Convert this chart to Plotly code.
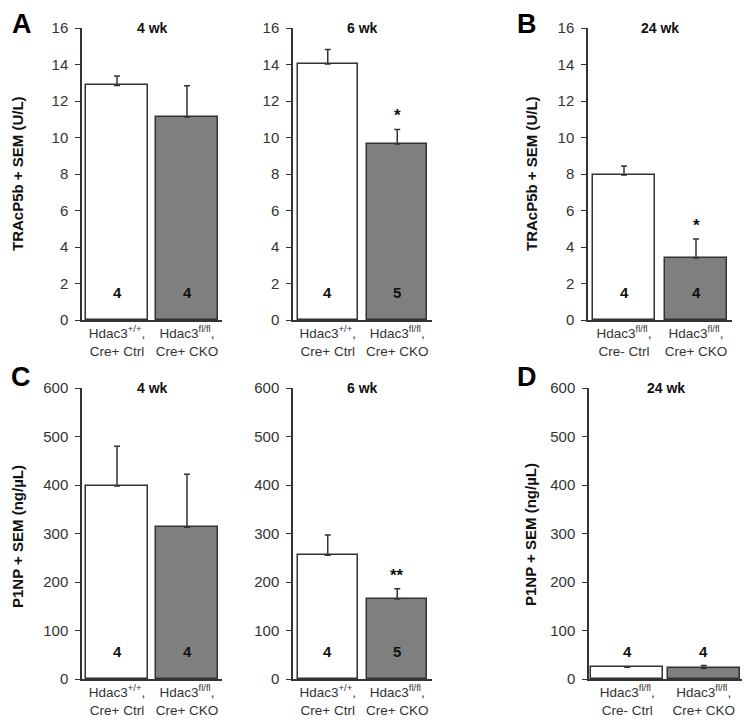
import plotly.graph_objects as go

# ---------------- data ----------------
groups_young = ["Hdac3<sup>+/+</sup>,<br>Cre+ Ctrl", "Hdac3<sup>fl/fl</sup>,<br>Cre+ CKO"]
groups_old = ["Hdac3<sup>fl/fl</sup>,<br>Cre- Ctrl", "Hdac3<sup>fl/fl</sup>,<br>Cre+ CKO"]

trap_4wk = [12.85, 11.12]
trap_4wk_sem = [0.52, 1.72]
trap_6wk = [14.03, 9.64]
trap_6wk_sem = [0.79, 0.80]
trap_24wk = [7.95, 3.40]
trap_24wk_sem = [0.49, 1.04]

p1np_4wk = [398, 313]
p1np_4wk_sem = [82, 109]
p1np_6wk = [255, 165]
p1np_6wk_sem = [42, 21]
p1np_24wk = [24, 22]
p1np_24wk_sem = [1, 6]

n_4wk = [4, 4]
n_6wk = [4, 5]
n_24wk = [4, 4]

sig_4wk = ["", ""]
sig_6wk_trap = ["", "*"]
sig_24wk_trap = ["", "*"]
sig_6wk_p1np = ["", "**"]
sig_24wk_p1np = ["", ""]

titles = ["4 wk", "6 wk", "24 wk"]
ytitle_trap = "TRAcP5b + SEM (U/L)"
ytitle_p1np = "P1NP + SEM (ng/µL)"
trap_ticks = [0, 2, 4, 6, 8, 10, 12, 14, 16]
p1np_ticks = [0, 100, 200, 300, 400, 500, 600]

OFF = 8  # page body margin
W, H = 750 - OFF, 728 - OFF
FONT = "Liberation Sans, Arial, sans-serif"
DARK = "#333333"
BAR_COLORS = ["#ffffff", "#7f7f7f"]


def px_x(p):
    return (p - OFF) / W


def px_y(p):
    return 1 - (p - OFF) / H


fig = go.Figure()

panels = [
    (trap_4wk, trap_4wk_sem, n_4wk, sig_4wk, groups_young, titles[0], 16, trap_ticks, (82, 222), (28, 320), 1.5, 0.88),
    (trap_6wk, trap_6wk_sem, n_6wk, sig_6wk_trap, groups_young, titles[1], 16, trap_ticks, (293, 432), (28, 320), 1.5, 0.87),
    (trap_24wk, trap_24wk_sem, n_24wk, sig_24wk_trap, groups_old, titles[2], 16, trap_ticks, (588, 732), (28, 320), 1.5, 0.87),
    (p1np_4wk, p1np_4wk_sem, n_4wk, sig_4wk, groups_young, titles[0], 600, p1np_ticks, (82, 222), (388, 679), 56, 0.88),
    (p1np_6wk, p1np_6wk_sem, n_6wk, sig_6wk_p1np, groups_young, titles[1], 600, p1np_ticks, (293, 432), (388, 679), 56, 0.87),
    (p1np_24wk, p1np_24wk_sem, n_24wk, sig_24wk_p1np, groups_old, titles[2], 600, p1np_ticks, (589, 742), (388, 679), 56, 0.94),
]

annotations = []
for i, (vals, sem, ns, sig, labels, title, ymax, ticks, xpix, ypix, ny, bw) in enumerate(panels):
    k = "" if i == 0 else str(i + 1)
    xa, ya = "x" + k, "y" + k
    fig.add_trace(go.Bar(
        x=[0, 1], y=vals, width=bw,
        marker=dict(color=BAR_COLORS, line=dict(color=DARK, width=1.5)),
        error_y=dict(type="data", symmetric=False, array=sem, arrayminus=[0, 0],
                     color=DARK, thickness=1.5, width=3),
        xaxis=xa, yaxis=ya, showlegend=False, hoverinfo="skip",
    ))
    fig.layout["xaxis" + k] = dict(
        domain=[px_x(xpix[0]), px_x(xpix[1])], anchor=ya, range=[-0.5, 1.5],
        tickvals=[0, 1], ticktext=labels, ticks="", showline=True, linecolor=DARK,
        linewidth=1.5, showgrid=False, zeroline=False, fixedrange=True, automargin=False,
        tickfont=dict(family=FONT, size=13.5, color=DARK),
    )
    fig.layout["yaxis" + k] = dict(
        domain=[px_y(ypix[1]), px_y(ypix[0])], anchor=xa, range=[0, ymax],
        tickvals=ticks, ticks="outside", ticklen=5, tickcolor=DARK, tickwidth=1.2,
        ticklabelstandoff=4,
        showline=True, linecolor=DARK, linewidth=1.5, showgrid=False, zeroline=False,
        tickfont=dict(family=FONT, size=15, color=DARK), fixedrange=True, automargin=False,
    )
    annotations.append(dict(x=0.5, y=ymax, xref=xa, yref=ya, text="<b>%s</b>" % title,
                            showarrow=False, yanchor="middle",
                            font=dict(family=FONT, size=14, color="#111")))
    for j in range(2):
        annotations.append(dict(x=j, y=ny, xref=xa, yref=ya, text="<b>%d</b>" % ns[j],
                                showarrow=False, yanchor="middle",
                                font=dict(family=FONT, size=15, color="#111")))
        if sig[j]:
            annotations.append(dict(x=j, y=vals[j] + sem[j], xref=xa, yref=ya,
                                    text="<b>%s</b>" % sig[j], showarrow=False,
                                    yanchor="bottom", yshift=2,
                                    font=dict(family=FONT, size=17, color="#111")))

for (xp, yc, txt) in [(17, 174, ytitle_trap), (531, 174, ytitle_trap),
                      (17, 537, ytitle_p1np), (530, 535, ytitle_p1np)]:
    annotations.append(dict(x=px_x(xp), y=px_y(yc), xref="paper", yref="paper",
                            text="<b>%s</b>" % txt, textangle=-90, showarrow=False,
                            xanchor="center", yanchor="middle",
                            font=dict(family=FONT, size=15, color="#111")))

# panel letters (top row anchored to the top edge so they are not clipped)
for (xp, yp, txt, anchor) in [(22, None, "A", "top"), (527, None, "B", "top"),
                              (21, 377, "C", "middle"), (527, 377, "D", "middle")]:
    annotations.append(dict(x=px_x(xp), y=1 if yp is None else px_y(yp),
                            xref="paper", yref="paper",
                            text="<b>%s</b>" % txt, showarrow=False,
                            xanchor="center", yanchor=anchor, borderpad=0,
                            font=dict(family=FONT, size=27, color="#000")))

fig.update_layout(
    width=W, height=H, margin=dict(l=0, r=0, t=0, b=0, autoexpand=False),
    paper_bgcolor="white", plot_bgcolor="white",
    annotations=annotations, bargap=0,
)

fig.write_html("out.html")
